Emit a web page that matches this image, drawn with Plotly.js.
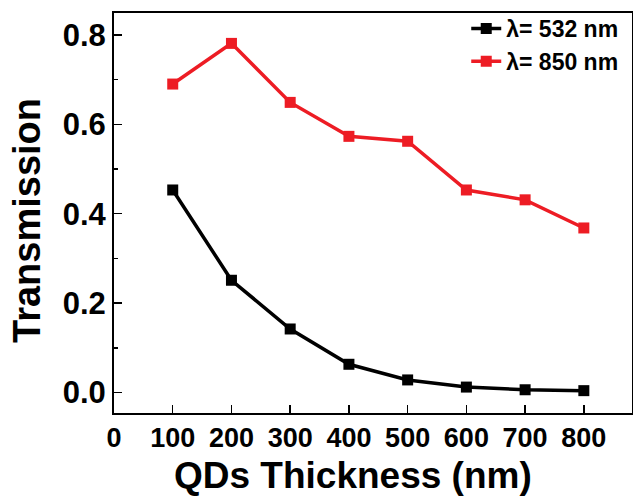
<!DOCTYPE html>
<html>
<head>
<meta charset="utf-8">
<script src="https://cdn.plot.ly/plotly-3.0.1.min.js"></script>
<style>html,body{margin:0;padding:0;background:#fff;}#chart{width:633px;height:499px;}</style>
</head>
<body>
<div id="chart"></div>
<script>
const thickness = [100, 200, 300, 400, 500, 600, 700, 800];
const trans532 = [0.453, 0.251, 0.142, 0.063, 0.028, 0.012, 0.006, 0.004];
const trans850 = [0.690, 0.781, 0.649, 0.573, 0.562, 0.453, 0.431, 0.368];
const xTicks = [0, 100, 200, 300, 400, 500, 600, 700, 800];
const yTicks = [0.0, 0.2, 0.4, 0.6, 0.8];
const yTickText = ['0.0', '0.2', '0.4', '0.6', '0.8'];
const names = ['λ= 532 nm', 'λ= 850 nm'];
const xTitle = 'QDs Thickness (nm)';
const yTitle = 'Transmission';

const FONT = 'Liberation Sans, Arial, sans-serif';
const traces = [
  {x: thickness, y: trans532, name: names[0], type: 'scatter', mode: 'lines+markers',
   line: {color: '#000000', width: 3.5}, marker: {symbol: 'square', size: 11, color: '#000000'}},
  {x: thickness, y: trans850, name: names[1], type: 'scatter', mode: 'lines+markers',
   line: {color: '#ED1C24', width: 3.5}, marker: {symbol: 'square', size: 11, color: '#ED1C24'}}
];
const layout = {
  width: 633, height: 499,
  margin: {l: 114, r: 1, t: 13, b: 86},
  paper_bgcolor: '#fff', plot_bgcolor: '#fff',
  font: {family: FONT, color: '#000', weight: 'bold'},
  showlegend: true,
  legend: {x: 0.68, y: 1.015, xanchor: 'left', yanchor: 'top', bgcolor: 'rgba(0,0,0,0)',
           font: {family: FONT, size: 23, color: '#000', weight: 'bold'}, tracegroupgap: 0},
  xaxis: {
    range: [0, 882], tickvals: xTicks, ticktext: xTicks.map(String),
    ticks: 'inside', ticklen: 8, tickwidth: 1.5, tickcolor: '#000',
    showline: true, linewidth: 2, linecolor: '#000', mirror: true,
    showgrid: false, zeroline: false,
    tickfont: {family: FONT, size: 27, color: '#000', weight: 'bold'}
  },
  yaxis: {
    range: [-0.046, 0.849], tickvals: yTicks, ticktext: yTickText,
    ticks: 'inside', ticklen: 8, tickwidth: 1.5, tickcolor: '#000',
    minor: {tickvals: [0.1, 0.3, 0.5, 0.7], ticks: 'inside', ticklen: 4, tickwidth: 1.5, tickcolor: '#000'},
    showline: true, linewidth: 2, linecolor: '#000', mirror: true,
    showgrid: false, zeroline: false,
    tickfont: {family: FONT, size: 31, color: '#000', weight: 'bold'}
  },
  annotations: [
    {text: xTitle, xref: 'paper', yref: 'paper', x: 0.4614, y: -0.157, xanchor: 'center', yanchor: 'middle',
     showarrow: false, font: {family: FONT, size: 37, color: '#000', weight: 'bold'}},
    {text: yTitle, xref: 'paper', yref: 'paper', x: -0.168, y: 0.4825, xanchor: 'center', yanchor: 'middle',
     textangle: -90, showarrow: false, font: {family: FONT, size: 38, color: '#000', weight: 'bold'}}
  ]
};
Plotly.newPlot('chart', traces, layout, {staticPlot: true, displayModeBar: false});
</script>
</body>
</html>
